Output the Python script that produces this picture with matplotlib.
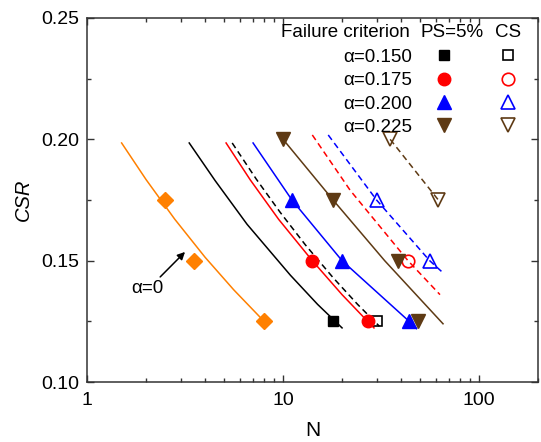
import matplotlib
matplotlib.use("Agg")
import matplotlib.pyplot as plt
from matplotlib.lines import Line2D
from matplotlib.ticker import FixedLocator, FixedFormatter

plt.rcParams["font.family"] = ["Liberation Sans", "DejaVu Sans"]

# ---------------------------------------------------------------------------
# Data
# ---------------------------------------------------------------------------

# test points, PS = 5% criterion
ps_150_n = [18.0]
ps_150_csr = [0.125]
ps_175_n = [14.1, 27.0]
ps_175_csr = [0.150, 0.125]
ps_200_n = [11.1, 20.0, 44.0]
ps_200_csr = [0.175, 0.150, 0.125]
ps_225_n = [10.0, 18.0, 38.6, 49.0]
ps_225_csr = [0.200, 0.175, 0.150, 0.125]

# test points, CS criterion
cs_150_n = [30.0]
cs_150_csr = [0.125]
cs_175_n = [43.4]
cs_175_csr = [0.150]
cs_200_n = [30.0, 56.0]
cs_200_csr = [0.175, 0.150]
cs_225_n = [35.2, 62.0]
cs_225_csr = [0.200, 0.175]

# alpha = 0
a0_n = [2.5, 3.5, 8.0]
a0_csr = [0.175, 0.150, 0.125]

# fitted curves
fit_a0_n = [1.5, 2.0, 2.8, 4.0, 5.6, 8.0]
fit_a0_csr = [0.1985, 0.1834, 0.1671, 0.1514, 0.138, 0.125]

fit_ps_150_n = [3.32, 4.5, 6.55, 10.9, 15.0, 20.0]
fit_ps_150_csr = [0.1985, 0.183, 0.165, 0.144, 0.132, 0.1223]
fit_ps_175_n = [5.12, 6.8, 9.5, 14.1, 20.0, 27.0, 29.1]
fit_ps_175_csr = [0.1985, 0.1833, 0.167, 0.150, 0.136, 0.125, 0.1223]
fit_ps_200_n = [7.03, 11.1, 20.0, 44.0, 48.0]
fit_ps_200_csr = [0.1985, 0.175, 0.150, 0.125, 0.122]
fit_ps_225_n = [10.0, 18.0, 33.0, 65.5]
fit_ps_225_csr = [0.200, 0.175, 0.150, 0.124]

fit_cs_150_n = [5.5, 7.3, 9.65, 13.0, 18.0, 24.0, 31.0]
fit_cs_150_csr = [0.1985, 0.1836, 0.170, 0.1565, 0.143, 0.132, 0.123]
fit_cs_175_n = [14.1, 22.0, 43.4, 63.2]
fit_cs_175_csr = [0.2018, 0.179, 0.150, 0.136]
fit_cs_200_n = [17.0, 30.0, 56.0, 65.5]
fit_cs_200_csr = [0.2018, 0.175, 0.150, 0.145]
fit_cs_225_n = [35.2, 62.0]
fit_cs_225_csr = [0.200, 0.175]

alpha_labels = ["\u03b1=0.150", "\u03b1=0.175", "\u03b1=0.200", "\u03b1=0.225"]

x_ticks = [1, 10, 100]
x_tick_labels = ["1", "10", "100"]
y_ticks = [0.10, 0.15, 0.20, 0.25]
y_tick_labels = ["0.10", "0.15", "0.20", "0.25"]

# ---------------------------------------------------------------------------
# Style
# ---------------------------------------------------------------------------

BLACK = "#000000"
RED = "#ff0000"
BLUE = "#0000ff"
BROWN = "#5e3a14"
ORANGE = "#ff8000"
LW = 1.1
DASH = (0, (4, 2.6))

series = [
    (BLACK, "s", 7.5, ps_150_n, ps_150_csr, cs_150_n, cs_150_csr,
     fit_ps_150_n, fit_ps_150_csr, fit_cs_150_n, fit_cs_150_csr),
    (RED, "o", 9, ps_175_n, ps_175_csr, cs_175_n, cs_175_csr,
     fit_ps_175_n, fit_ps_175_csr, fit_cs_175_n, fit_cs_175_csr),
    (BLUE, "^", 10, ps_200_n, ps_200_csr, cs_200_n, cs_200_csr,
     fit_ps_200_n, fit_ps_200_csr, fit_cs_200_n, fit_cs_200_csr),
    (BROWN, "v", 10, ps_225_n, ps_225_csr, cs_225_n, cs_225_csr,
     fit_ps_225_n, fit_ps_225_csr, fit_cs_225_n, fit_cs_225_csr),
]


def main():
    fig = plt.figure(figsize=(5.41, 4.42), dpi=100)
    ax = fig.add_axes([0.161, 0.1357, 0.8335, 0.8236])

    # alpha = 0
    ax.plot(fit_a0_n, fit_a0_csr, color=ORANGE, lw=LW)
    ax.plot(a0_n, a0_csr, "D", color=ORANGE, ms=8, mec=ORANGE, ls="none")

    ps_handles = []
    cs_handles = []
    for (c, m, ms, pn, pc, cn, cc, fpn, fpc, fcn, fcc) in series:
        ax.plot(fpn, fpc, color=c, lw=LW)
        ax.plot(fcn, fcc, color=c, lw=LW, ls=DASH)
        ax.plot(pn, pc, m, color=c, mec=c, ms=ms, ls="none", zorder=3)
        ax.plot(cn, cc, m, mfc="none", mec=c, mew=1.2, ms=ms, ls="none", zorder=3)
        ps_handles.append(Line2D([], [], marker=m, color=c, mec=c, ms=ms, ls="none"))
        cs_handles.append(Line2D([], [], marker=m, mfc="none", mec=c, mew=1.2,
                                 ms=ms, ls="none"))

    ax.annotate("", xy=(3.16, 0.1536), xytext=(2.36, 0.1433),
                arrowprops=dict(arrowstyle="-|>", color=BLACK, lw=1.1,
                                mutation_scale=11, shrinkA=0, shrinkB=0))
    ax.text(2.02, 0.1385, "\u03b1=0", fontsize=13.5, ha="center", va="center")

    ax.set_xscale("log")
    ax.set_xlim(1, 200)
    ax.set_ylim(0.10, 0.25)
    ax.xaxis.set_major_locator(FixedLocator(x_ticks))
    ax.xaxis.set_major_formatter(FixedFormatter(x_tick_labels))
    ax.yaxis.set_major_locator(FixedLocator(y_ticks))
    ax.yaxis.set_major_formatter(FixedFormatter(y_tick_labels))
    ax.yaxis.set_minor_locator(FixedLocator([0.125, 0.175, 0.225]))

    for s in ax.spines.values():
        s.set_linewidth(1.1)
        s.set_color("#333333")
    ax.tick_params(which="both", direction="in", top=True, right=True,
                   color="#333333", width=1.0)
    ax.tick_params(which="major", length=5, labelsize=14, pad=6)
    ax.tick_params(which="minor", length=3)
    ax.tick_params(axis="x", which="major", pad=7)

    ax.set_xlabel("N", fontsize=15, labelpad=9)
    ax.set_ylabel("CSR", fontsize=14.5, style="italic", labelpad=6)

    # legend: header row as text, then two marker columns
    ax.text(0.716, 0.9615, "Failure criterion", transform=ax.transAxes,
            fontsize=13.5, ha="right", va="center")
    ax.text(0.809, 0.9615, "PS=5%", transform=ax.transAxes,
            fontsize=13.5, ha="center", va="center")
    ax.text(0.933, 0.9615, "CS", transform=ax.transAxes,
            fontsize=13.5, ha="center", va="center")

    handles = ps_handles + cs_handles
    labels = alpha_labels + [""] * 4
    ax.legend(handles, labels, ncol=2, markerfirst=False, frameon=False,
              loc="upper left", bbox_to_anchor=(0.5676, 0.916),
              fontsize=13.5, borderpad=0, borderaxespad=0,
              handlelength=1.0, handletextpad=1.2, columnspacing=1.2,
              labelspacing=0.335)

    fig.savefig("out.png", dpi=100)
    plt.close(fig)


if __name__ == "__main__":
    main()
